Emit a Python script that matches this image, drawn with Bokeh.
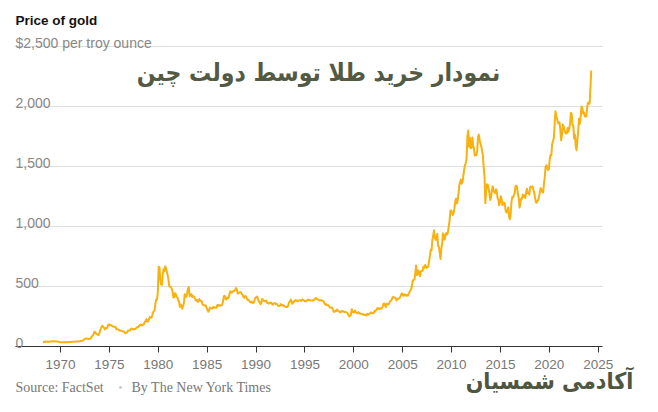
from bokeh.plotting import figure
from bokeh.models import Range1d, FixedTicker, Label, ColumnDataSource
from bokeh.embed import file_html
from bokeh.resources import INLINE

# ---- data: monthly gold price (USD per troy ounce), March 1968 .. April 2024 ----
start_year = 1968
start_month = 3

prices_1960s = [
    37.0, 37.7, 40.0, 41.0, 39.5, 39.2, 39.6, 39.3, 39.9, 41.1,            # 1968 Mar-Dec
    42.3, 42.6, 43.2, 43.3, 43.5, 41.3, 41.8, 40.9, 40.7, 40.3, 37.4, 35.2,  # 1969
]
prices_1970s = [
    34.9, 35.0, 35.1, 35.6, 35.9, 35.4, 35.3, 35.4, 36.2, 37.5, 37.4, 37.4,
    37.9, 38.7, 38.9, 39.0, 40.5, 40.1, 40.9, 42.7, 42.0, 42.5, 42.9, 43.5,
    45.7, 48.3, 48.3, 49.0, 54.6, 62.1, 65.7, 67.0, 65.5, 64.9, 62.9, 63.9,
    65.1, 74.2, 84.4, 90.5, 102.0, 122.5, 120.2, 106.8, 103.0, 100.1, 94.9, 106.7,
    129.2, 150.2, 168.4, 172.2, 163.3, 154.1, 142.9, 154.6, 151.8, 158.8, 181.7, 183.9,
    176.0, 179.6, 178.2, 170.0, 167.0, 164.3, 165.2, 163.1, 144.1, 142.8, 142.8, 139.3,
    131.6, 132.0, 132.8, 127.7, 126.8, 125.7, 117.5, 109.8, 114.3, 116.0, 130.6, 133.7,
    132.3, 136.3, 148.2, 149.2, 146.7, 140.8, 143.4, 144.9, 149.6, 159.0, 161.8, 160.5,
    173.3, 178.4, 183.7, 175.3, 176.3, 183.7, 188.6, 206.1, 212.5, 227.4, 206.0, 207.8,
    227.3, 245.7, 242.1, 239.2, 257.6, 279.1, 294.7, 300.8, 355.1, 391.7, 392.5, 455.1,
]
prices_1980s = [
    665.0, 660.0, 553.6, 517.4, 513.8, 600.7, 644.3, 627.3, 668.0, 655.0, 623.5, 594.9,
    557.4, 500.5, 499.8, 494.8, 479.7, 460.8, 409.4, 410.1, 443.6, 437.7, 413.4, 410.1,
    384.4, 374.2, 330.3, 350.6, 333.6, 314.9, 338.6, 364.2, 435.8, 422.9, 414.1, 444.3,
    485.0, 495.0, 419.6, 432.8, 437.6, 412.9, 422.4, 416.3, 411.8, 393.6, 381.5, 388.6,
    370.9, 386.1, 394.8, 381.6, 377.7, 377.3, 347.5, 347.7, 341.1, 340.2, 341.2, 319.9,
    303.3, 290.0, 304.0, 324.6, 316.6, 316.6, 317.4, 330.2, 323.5, 325.7, 325.3, 322.4,
    345.5, 339.1, 346.6, 340.4, 342.6, 342.8, 348.5, 376.3, 418.7, 423.3, 398.1, 391.3,
    408.3, 401.1, 408.9, 438.4, 460.3, 449.0, 450.5, 460.3, 460.3, 465.0, 469.3, 488.0,
    477.6, 442.1, 443.6, 451.8, 451.4, 451.6, 437.3, 431.9, 413.6, 406.6, 420.1, 418.7,
    404.0, 387.8, 390.2, 384.4, 371.0, 367.6, 375.0, 365.4, 362.0, 367.0, 394.3, 409.4,
]
prices_1990s = [
    410.1, 416.8, 393.1, 374.3, 369.6, 352.3, 362.5, 395.0, 389.3, 380.8, 381.7, 376.3,
    383.7, 363.8, 363.3, 358.4, 357.4, 366.7, 367.6, 356.2, 348.7, 358.6, 359.6, 361.7,
    354.5, 353.9, 344.3, 338.6, 337.2, 340.8, 353.1, 343.0, 345.3, 344.4, 335.0, 334.8,
    329.0, 329.4, 330.0, 342.2, 367.2, 371.4, 392.0, 379.8, 355.4, 364.0, 373.9, 383.3,
    387.0, 381.5, 384.1, 377.3, 381.4, 385.6, 385.5, 380.4, 391.6, 389.8, 384.4, 379.3,
    378.6, 376.5, 382.1, 391.0, 385.3, 387.6, 386.2, 383.7, 383.1, 383.1, 386.0, 387.4,
    399.5, 404.8, 396.2, 392.9, 392.0, 385.2, 383.5, 387.5, 383.1, 381.1, 377.9, 369.0,
    354.6, 346.6, 351.8, 344.5, 343.8, 340.8, 324.1, 324.0, 322.8, 324.9, 306.0, 288.7,
    289.1, 297.5, 295.9, 308.4, 299.1, 292.3, 292.9, 284.1, 289.0, 296.0, 294.1, 291.5,
    287.1, 287.3, 286.0, 282.4, 276.4, 261.3, 250.0, 256.7, 264.7, 310.7, 293.2, 283.1,
]
prices_2000s = [
    284.3, 300.0, 286.4, 279.7, 275.1, 285.7, 281.6, 274.5, 273.7, 270.0, 266.0, 271.5,
    265.5, 261.9, 263.0, 258.0, 272.4, 270.2, 267.5, 272.4, 283.4, 283.1, 276.2, 275.9,
    281.7, 295.5, 294.0, 302.7, 314.5, 321.2, 313.3, 310.3, 319.2, 316.6, 319.1, 332.6,
    356.9, 359.0, 340.6, 328.2, 355.7, 356.4, 351.0, 359.8, 378.9, 378.9, 389.9, 407.6,
    414.0, 405.3, 406.7, 403.3, 383.8, 392.4, 398.1, 400.5, 405.3, 420.5, 439.4, 442.1,
    424.0, 423.4, 434.2, 429.2, 421.9, 430.7, 424.5, 437.9, 456.0, 469.9, 476.7, 509.8,
    549.9, 555.0, 557.1, 610.6, 675.4, 596.2, 633.7, 632.6, 598.2, 585.8, 627.8, 629.8,
    631.2, 664.8, 654.9, 679.4, 666.9, 655.5, 665.3, 665.4, 712.7, 754.6, 806.3, 803.2,
    889.6, 922.3, 968.4, 909.7, 888.7, 889.5, 939.8, 839.0, 829.9, 780.0, 730.0, 816.1,
    858.7, 943.2, 924.3, 890.2, 928.6, 945.7, 934.2, 949.4, 996.6, 1043.2, 1127.0, 1134.7,
]
prices_2010s = [
    1117.9, 1095.4, 1113.3, 1148.7, 1205.4, 1232.9, 1192.6, 1215.8, 1270.8, 1342.0, 1369.9, 1390.6,
    1356.4, 1372.7, 1424.0, 1473.8, 1510.4, 1528.7, 1572.8, 1755.8, 1800.0, 1665.2, 1738.9, 1652.2,
    1656.1, 1742.6, 1673.8, 1649.7, 1591.2, 1598.8, 1594.3, 1630.3, 1744.8, 1766.0, 1721.6, 1688.5,
    1670.0, 1627.6, 1593.1, 1487.9, 1414.0, 1195.0, 1285.5, 1351.7, 1348.6, 1316.6, 1275.9, 1221.5,
    1244.3, 1300.0, 1336.1, 1299.0, 1287.5, 1279.1, 1310.6, 1295.1, 1236.6, 1222.5, 1176.3, 1202.3,
    1251.8, 1227.1, 1178.6, 1198.9, 1198.6, 1181.5, 1128.3, 1117.9, 1124.8, 1159.3, 1086.4, 1060.0,
    1097.9, 1199.5, 1245.1, 1242.3, 1260.9, 1276.4, 1336.7, 1340.2, 1326.6, 1266.6, 1238.1, 1157.4,
    1192.1, 1234.2, 1231.4, 1266.9, 1246.0, 1260.3, 1236.8, 1283.0, 1314.1, 1279.5, 1281.9, 1264.5,
    1331.3, 1330.7, 1324.7, 1334.8, 1303.5, 1282.0, 1238.0, 1201.7, 1198.4, 1215.4, 1220.9, 1250.4,
    1291.8, 1320.1, 1300.9, 1285.9, 1283.7, 1359.0, 1412.9, 1500.4, 1510.6, 1494.8, 1470.0, 1479.1,
]
prices_2020s = [
    1560.7, 1597.1, 1591.9, 1683.2, 1715.9, 1732.2, 1846.5, 1960.0, 1921.9, 1900.3, 1866.3, 1858.4,
    1867.6, 1808.2, 1718.2, 1760.0, 1850.3, 1834.6, 1807.8, 1785.3, 1775.1, 1776.9, 1821.5, 1790.3,
    1816.0, 1856.3, 1947.8, 1937.4, 1848.5, 1836.6, 1732.7, 1764.6, 1665.0, 1635.0, 1726.1, 1797.6,
    1897.8, 1854.6, 1912.7, 1999.4, 1991.1, 1942.9, 1951.0, 1918.7, 1916.3, 1917.1, 1992.1, 2030.3,
    2034.0, 2023.3, 2158.8, 2300.0,                                          # 2024 Jan-Apr
]

x_ticks = [1970, 1975, 1980, 1985, 1990, 1995, 2000, 2005, 2010, 2015, 2020, 2025]
y_ticks = [0, 500, 1000, 1500, 2000]
y_tick_labels = ["0", "500", "1,000", "1,500", "2,000"]
grid_ticks = [500, 1000, 1500, 2000, 2500]

title_text = "Price of gold"
subtitle_text = "$2,500 per troy ounce"
persian_title = "نمودار خرید طلا توسط دولت چین"
persian_footer = "آکادمی شمسیان"
source_text = "Source: FactSet"
byline_text = "By The New York Times"

# ---- build series ----
prices = prices_1960s + prices_1970s + prices_1980s + prices_1990s + prices_2000s + prices_2010s + prices_2020s
dates = [start_year + (start_month - 1 + i + 0.5) / 12.0 for i in range(len(prices))]
source = ColumnDataSource(dict(x=dates, y=prices))

# ---- canvas geometry (frame = whole canvas) ----
W, H = 642, 396
PX_PER_YEAR = 9.776
PX_PER_USD = 0.12
X0 = 1970 - 60 / PX_PER_YEAR           # canvas left
X1 = X0 + W / PX_PER_YEAR              # canvas right
Y1 = 346 / PX_PER_USD                  # canvas top
Y0 = -(H - 346) / PX_PER_USD           # canvas bottom
XL = X0 + 15 / PX_PER_YEAR             # plot area left
XR = X0 + 602 / PX_PER_YEAR            # plot area right

def cx(px):  # canvas pixel -> data x (for text placement)
    return X0 + px / PX_PER_YEAR

def cy(py):  # canvas pixel -> data y (for text placement)
    return (346 - py) / PX_PER_USD

PERSIAN_FONT = "DejaVu Sans Condensed, DejaVu Sans"

p = figure(width=W, height=H, output_backend="svg", toolbar_location=None,
           x_range=Range1d(X0, X1), y_range=Range1d(Y0, Y1),
           y_axis_location=None,
           min_border_left=0, min_border_right=0, min_border_top=0, min_border_bottom=0)
p.outline_line_color = None
p.background_fill_color = "white"
p.border_fill_color = "white"
p.xgrid.visible = False
p.ygrid.visible = False

# horizontal gridlines limited to the plot area
p.segment(x0=[XL] * len(grid_ticks), x1=[XR] * len(grid_ticks), y0=grid_ticks, y1=grid_ticks,
          line_color="#dddddd", line_width=1)

ax = p.xaxis[0]
ax.fixed_location = 0
ax.bounds = (XL, XR)
ax.ticker = FixedTicker(ticks=x_ticks)
ax.axis_line_color = "#333333"
ax.major_tick_line_color = "#333333"
ax.major_tick_out = 6
ax.major_tick_in = 0
ax.minor_tick_line_color = None
ax.major_label_text_font = "Liberation Sans"
ax.major_label_text_font_size = "13.5px"
ax.major_label_text_color = "#777777"
ax.major_label_standoff = 7

p.line("x", "y", source=source, line_color="#f8b10f", line_width=2, line_join="round")

# y tick labels
for v, t in zip(y_ticks, y_tick_labels):
    p.add_layout(Label(x=XL, y=v, text=t, y_offset=4, text_font="Liberation Sans",
                       text_font_size="14px", text_color="#888888",
                       text_align="left", text_baseline="alphabetic"))

# titles
p.add_layout(Label(x=XL, y=cy(20), text=title_text, text_font="Liberation Sans",
                   text_font_style="bold", text_font_size="13.5px", text_color="#121212",
                   text_align="left", text_baseline="alphabetic"))
p.add_layout(Label(x=XL, y=cy(42), text=subtitle_text, text_font="Liberation Sans",
                   text_font_size="14px", text_color="#888888",
                   text_align="left", text_baseline="alphabetic"))

# persian overlay title
p.add_layout(Label(x=cx(318), y=cy(72), text=persian_title,
                   text_font=PERSIAN_FONT,
                   text_font_style="bold", text_font_size="24.5px", text_color="#535a43",
                   text_align="center", text_baseline="middle"))

# footer
p.add_layout(Label(x=XL, y=cy(387), text=source_text, text_font="Liberation Serif",
                   text_font_size="14px", text_color="#777777",
                   text_align="left", text_baseline="alphabetic"))
p.add_layout(Label(x=cx(120), y=cy(386), text="•", text_font="Liberation Sans",
                   text_font_size="11px", text_color="#cccccc",
                   text_align="center", text_baseline="alphabetic"))
p.add_layout(Label(x=cx(131), y=cy(387), text=byline_text, text_font="Liberation Serif",
                   text_font_size="14px", text_color="#777777",
                   text_align="left", text_baseline="alphabetic"))
p.add_layout(Label(x=cx(549), y=cy(380), text=persian_footer,
                   text_font=PERSIAN_FONT,
                   text_font_style="bold", text_font_size="23px", text_color="#4f5640",
                   text_align="center", text_baseline="middle"))

open("out.html", "w").write(file_html(p, INLINE))
